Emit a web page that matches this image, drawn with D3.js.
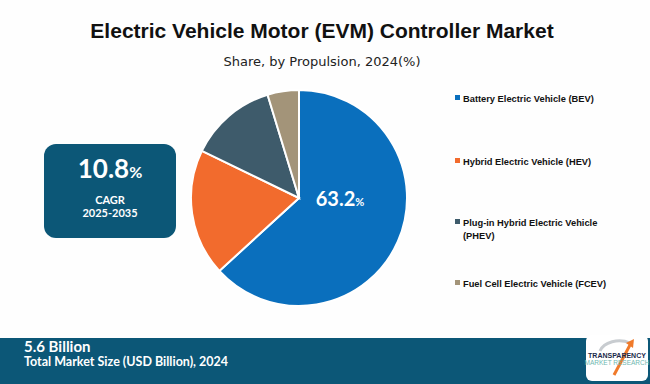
<!DOCTYPE html>
<html>
  <head>
    <script src="https://cdn.jsdelivr.net/npm/d3@7"></script>
    <style>
      body { margin: 0; background: #fff; }
    </style>
  </head>
  <body>
    <script type="text/javascript">

    // share by propulsion, 2024 (%)
    var segments = ["Battery Electric Vehicle (BEV)", "Hybrid Electric Vehicle (HEV)",
                    "Plug-in Hybrid Electric Vehicle (PHEV)", "Fuel Cell Electric Vehicle (FCEV)"];
    var shares = [63.2, 19.0, 13.1, 4.7];
    var colors = ["#0a6fbd", "#f26b2d", "#3e5b6b", "#a39479"];
    // legend text split onto lines
    var legendLines = [["Battery Electric Vehicle (BEV)"], ["Hybrid Electric Vehicle (HEV)"],
                       ["Plug-in Hybrid Electric Vehicle", "(PHEV)"], ["Fuel Cell Electric Vehicle (FCEV)"]];

    var cagr = "10.8", cagrPeriod = "2025-2035";
    var marketSize = "5.6 Billion";

    var W = 650, H = 384;
    var svg = d3.select("body").append("svg").attr("width", W).attr("height", H);
    svg.append("rect").attr("width", W).attr("height", H).attr("fill", "#fefefe");

    // titles
    svg.append("text").attr("x", 322).attr("y", 38).attr("text-anchor", "middle")
      .style("font-family", "'Liberation Sans Narrow', 'Liberation Sans', sans-serif")
      .style("font-weight", "bold").style("font-size", "21px").attr("fill", "#111")
      .text("Electric Vehicle Motor (EVM) Controller Market");
    svg.append("text").attr("x", 322).attr("y", 66).attr("text-anchor", "middle")
      .style("font-family", "'DejaVu Sans', sans-serif")
      .style("font-size", "13px").attr("fill", "#222")
      .text("Share, by Propulsion, 2024(%)");

    // pie
    var cx = 299, cy = 198, r = 108;
    var pie = d3.pie().sort(null).value(function (d) { return d; });
    var arc = d3.arc().innerRadius(0).outerRadius(r);
    var g = svg.append("g").attr("transform", "translate(" + cx + "," + cy + ")");
    g.selectAll("path").data(pie(shares)).enter().append("path")
      .attr("d", arc)
      .attr("fill", function (d, i) { return colors[i]; })
      .attr("stroke", "#fff").attr("stroke-width", 2);

    var lbl = g.append("text").attr("x", 41).attr("y", 8).attr("text-anchor", "middle")
      .attr("fill", "#fff").style("font-family", "'Lato', sans-serif").style("font-weight", "bold");
    lbl.append("tspan").style("font-size", "20px").text(shares[0].toFixed(1));
    lbl.append("tspan").style("font-size", "11px").text("%");

    // CAGR box
    svg.append("rect").attr("x", 44).attr("y", 144).attr("width", 132).attr("height", 94)
      .attr("rx", 12).attr("fill", "#0c5777");
    var ct = svg.append("text").attr("x", 110).attr("y", 178).attr("text-anchor", "middle")
      .attr("fill", "#fff").style("font-family", "'Lato', sans-serif").style("font-weight", "bold");
    ct.append("tspan").style("font-size", "26px").text(cagr);
    ct.append("tspan").style("font-size", "16px").text("%");
    svg.selectAll("text.cagr").data(["CAGR", cagrPeriod]).enter().append("text")
      .attr("class", "cagr").attr("x", 110).attr("y", function (d, i) { return 204 + i * 13; })
      .attr("text-anchor", "middle").attr("fill", "#fff")
      .style("font-family", "'Lato', sans-serif").style("font-weight", "bold").style("font-size", "11px")
      .text(function (d) { return d; });

    // legend
    var legendY = [98, 161, 222, 283];
    var lg = svg.selectAll("g.leg").data(segments).enter().append("g").attr("class", "leg")
      .attr("transform", function (d, i) { return "translate(455," + legendY[i] + ")"; });
    lg.append("rect").attr("x", 0).attr("y", -3).attr("width", 5).attr("height", 5)
      .attr("fill", function (d, i) { return colors[i]; });
    lg.each(function (d, i) {
      d3.select(this).selectAll("text").data(legendLines[i]).enter().append("text")
        .attr("x", 8).attr("y", function (t, j) { return 3.5 + j * 13; })
        .attr("fill", "#111")
        .style("font-family", "'Liberation Sans Narrow', 'Liberation Sans', sans-serif")
        .style("font-weight", "bold").style("font-size", "9.3px")
        .text(function (t) { return t; });
    });

    // footer
    svg.append("rect").attr("x", 0).attr("y", 338).attr("width", W).attr("height", H - 338)
      .attr("fill", "#0c5777");
    svg.append("text").attr("x", 24).attr("y", 352).attr("fill", "#fff")
      .style("font-family", "'Lato', sans-serif").style("font-weight", "bold").style("font-size", "15px")
      .text(marketSize);
    svg.append("text").attr("x", 24).attr("y", 366).attr("fill", "#fff")
      .style("font-family", "'Lato', sans-serif").style("font-weight", "bold").style("font-size", "12.5px")
      .text("Total Market Size (USD Billion), 2024");

    // logo
    var logo = svg.append("g").attr("transform", "translate(586,335)");
    logo.append("rect").attr("width", 62).attr("height", 46).attr("rx", 6).attr("fill", "#fff");
    logo.append("path").attr("d", "M14,16 A20,14 0 0 1 44,8").attr("fill", "none")
      .attr("stroke", "#c8ccd0").attr("stroke-width", 3);
    logo.append("path").attr("d", "M28,40 L44,10").attr("stroke", "#f07a2a").attr("stroke-width", 3);
    logo.append("path").attr("d", "M40,8 L48,4 L47,13 Z").attr("fill", "#f07a2a");
    logo.append("text").attr("x", 31).attr("y", 23).attr("text-anchor", "middle")
      .style("font-family", "'Liberation Sans Narrow', sans-serif").style("font-weight", "bold")
      .style("font-size", "7px").attr("fill", "#1b2a4a").text("TRANSPARENCY");
    logo.append("text").attr("x", 31).attr("y", 30).attr("text-anchor", "middle")
      .style("font-family", "'Liberation Sans Narrow', sans-serif")
      .style("font-size", "6.5px").attr("fill", "#6fb7b0").text("MARKET RESEARCH");
    </script>
  </body>
</html>
